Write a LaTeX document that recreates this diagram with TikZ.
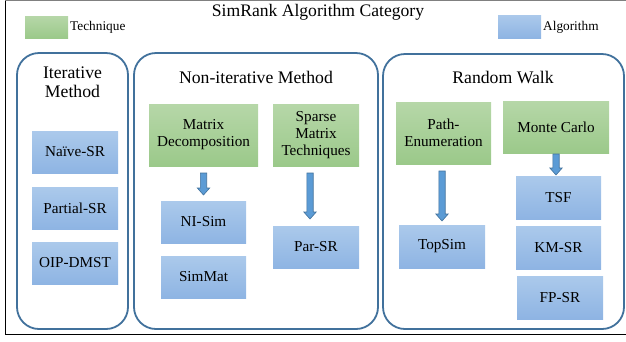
\documentclass[tikz,border=0pt]{standalone}
\usepackage{fontspec}
\setmainfont{Liberation Serif}
\usetikzlibrary{calc}
\definecolor{grpline}{HTML}{41719C}
\definecolor{arrfill}{HTML}{5B9BD5}
\definecolor{gtop}{HTML}{B6D7A8}
\definecolor{gbot}{HTML}{9BC98A}
\definecolor{btop}{HTML}{ABC9EB}
\definecolor{bbot}{HTML}{8EB4E3}
\tikzset{
  grp/.style={draw=grpline, line width=1.8pt, rounded corners=22pt},
  grptitle/.style={font=\fontsize{17.7}{19}\selectfont, align=center, inner sep=0pt},
  techbox/.style={top color=gtop, bottom color=gbot, draw=none, align=center, inner sep=0pt,
     font=\fontsize{15.2}{17}\selectfont},
  algbox/.style={top color=btop, bottom color=bbot, draw=none, align=center, inner sep=0pt,
     font=\fontsize{15.2}{17}\selectfont},
  legtext/.style={font=\fontsize{13.3}{15}\selectfont, anchor=west, inner sep=0pt},
  blockarr/.style={fill=arrfill, draw=grpline, line width=0.6pt, line join=miter}
}
\newcommand{\blockarrow}[2]{%
  \path let \p1=(#1), \p2=(#2) in
    [blockarr] (\x1-3.2pt,\y1) -- (\x1+3.2pt,\y1) -- (\x1+3.2pt,\y2+7pt) -- (\x1+6.2pt,\y2+7pt)
    -- (\x1,\y2) -- (\x1-6.2pt,\y2+7pt) -- (\x1-3.2pt,\y2+7pt) -- cycle;}
\begin{document}
\begin{tikzpicture}[x=1pt,y=-1pt]
\useasboundingbox (0,0) rectangle (626,341);
% outer frame
\draw[gray, line width=1pt] (5,0.6) -- (626,0.6);
\draw[black, line width=0.9pt] (5,0.6) -- (5,334.5) -- (626,334.5);
% title and legend
\node[font=\fontsize{17.6}{19}\selectfont, inner sep=0pt] (title) at (318,12.5) {SimRank Algorithm Category};
\node[techbox, minimum width=43pt, minimum height=22pt] (legT) at (46.5,27) {};
\node[legtext] (legTt) at (70,27) {Technique};
\node[algbox, minimum width=43pt, minimum height=23pt] (legA) at (519.5,26.5) {};
\node[legtext] (legAt) at (543,27) {Algorithm};
% groups
\node[grp, minimum width=111pt, minimum height=276pt] (g1) at (72.5,191) {};
\node[grp, minimum width=244pt, minimum height=276pt] (g2) at (256,191) {};
\node[grp, minimum width=241pt, minimum height=275pt] (g3) at (503.5,191.5) {};
\node[grptitle] (t1) at (72.5,82) {Iterative\\Method};
\node[grptitle] (t2) at (256,77) {Non-iterative Method};
\node[grptitle] (t3) at (503,77) {Random Walk};
% iterative
\node[algbox, minimum width=86pt, minimum height=42pt] (naive) at (75,152) {Naïve-SR};
\node[algbox, minimum width=86pt, minimum height=42pt] (partial) at (75,208) {Partial-SR};
\node[algbox, minimum width=86pt, minimum height=42pt] (oip) at (75,263) {OIP-DMST};
% non-iterative
\node[techbox, minimum width=109pt, minimum height=62pt] (md) at (203.5,135) {Matrix\\Decomposition};
\node[techbox, minimum width=86pt, minimum height=62pt] (smt) at (316,135) {Sparse\\Matrix\\Techniques};
\node[algbox, minimum width=85pt, minimum height=42pt] (nisim) at (203.5,222) {NI-Sim};
\node[algbox, minimum width=85pt, minimum height=42pt] (simmat) at (203.5,277) {SimMat};
\node[algbox, minimum width=86pt, minimum height=42pt] (parsr) at (316,247) {Par-SR};
% random walk
\node[techbox, minimum width=95pt, minimum height=62pt] (pe) at (443.5,133) {Path-\\Enumeration};
\node[techbox, minimum width=106pt, minimum height=52pt] (mc) at (556,127) {Monte Carlo};
\node[algbox, minimum width=86pt, minimum height=43pt] (topsim) at (442,246.5) {TopSim};
\node[algbox, minimum width=85pt, minimum height=43pt] (tsf) at (558.5,197.5) {TSF};
\node[algbox, minimum width=85pt, minimum height=43pt] (kmsr) at (558.5,247.5) {KM-SR};
\node[algbox, minimum width=86pt, minimum height=43pt] (fpsr) at (560,297.5) {FP-SR};
% arrows
\coordinate (a1s) at (203.5,173); \coordinate (a1e) at (203.5,195);
\coordinate (a2s) at (310,173);   \coordinate (a2e) at (310,219);
\coordinate (a3s) at (442,171);   \coordinate (a3e) at (442,221);
\coordinate (a4s) at (556,154);   \coordinate (a4e) at (556,175);
\blockarrow{a1s}{a1e}
\blockarrow{a2s}{a2e}
\blockarrow{a3s}{a3e}
\blockarrow{a4s}{a4e}
\end{tikzpicture}
\end{document}
